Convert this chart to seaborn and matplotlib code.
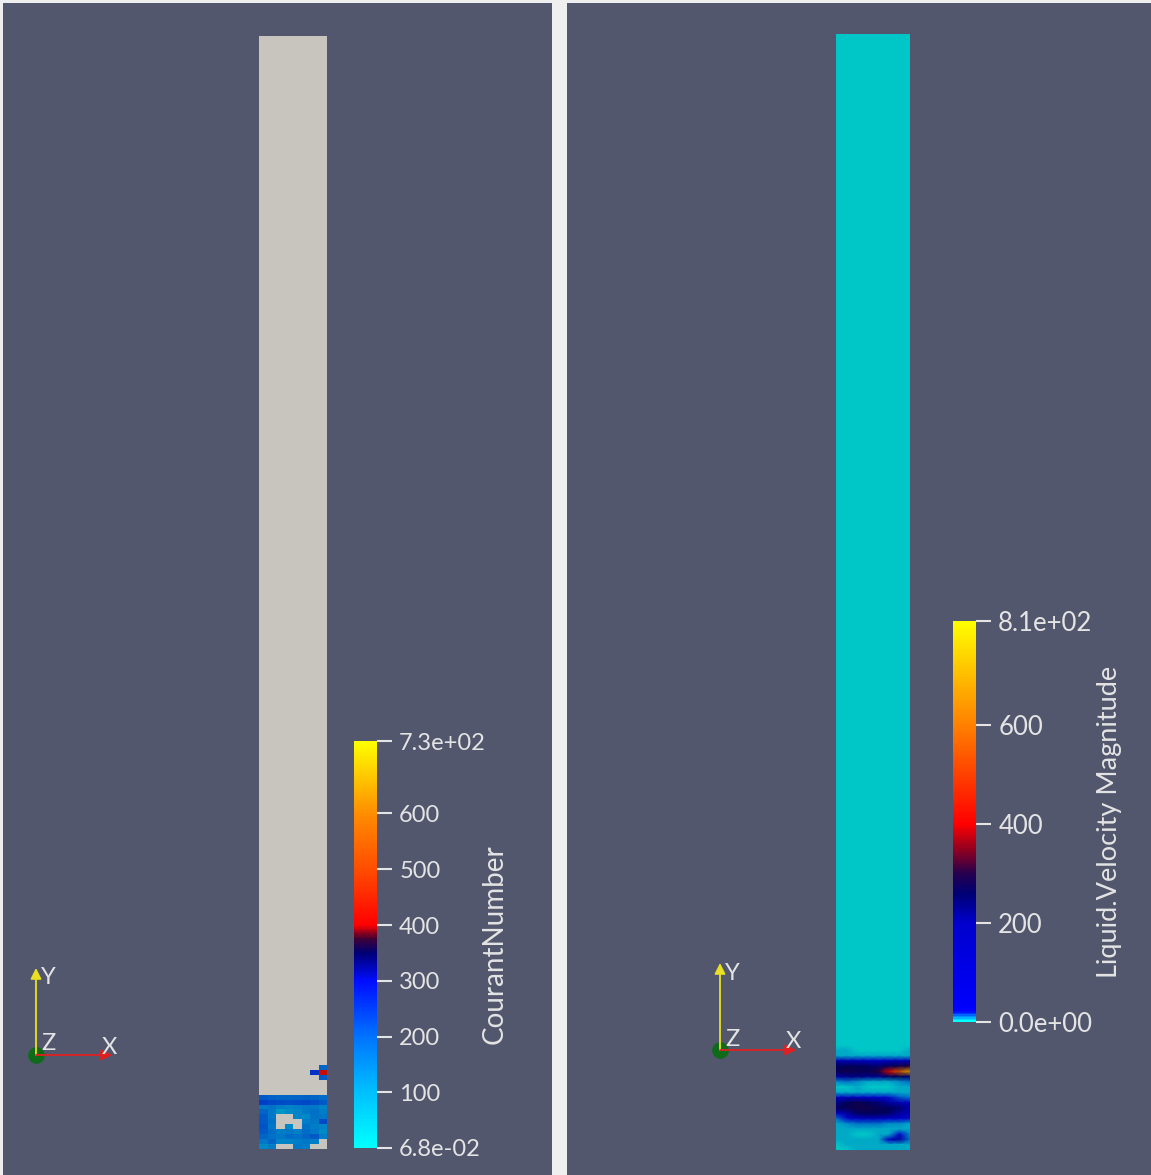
import numpy as np
import seaborn as sns
import matplotlib.pyplot as plt
from matplotlib.colors import LinearSegmentedColormap, ListedColormap, Normalize
from matplotlib.cm import ScalarMappable

sns.set_style("white")
plt.rcParams['font.family'] = ['Lato', 'DejaVu Sans']

nan = np.nan

courant_range = (0.068, 730.0)
courant_ticks = [0.068, 100, 200, 300, 400, 500, 600, 730]
courant_labels = ["6.8e-02", "100", "200", "300", "400", "500", "600", "7.3e+02"]
courant_top = [[nan]]          # upper column: no value (NaN colour)
courant_bottom = [
    [nan, nan, nan, nan, nan, nan, nan, nan],
    [nan, nan, nan, nan, nan, nan, nan, 180],
    [nan, nan, nan, nan, nan, nan, 250, 420],
    [nan, nan, nan, nan, nan, nan, nan, 200],
    [nan, nan, nan, nan, nan, nan, nan, nan],
    [nan, nan, nan, nan, nan, nan, nan, nan],
    [nan, nan, nan, nan, nan, nan, nan, nan],
    [200, 190, 180, 180, 185, 190, 180, 170],
    [235, 225, 220, 215, 220, 225, 215, 200],
    [150, 160, 140, 130, 140, 150, 150, 130],
    [180, 150, 100, 120, 130, 150, 160, 140],
    [200, 150, nan, nan, 130, 120, 160, 150],
    [200, 160, nan, nan, nan, 140, 150, 220],
    [210, 150, nan, 120, nan, 160, 140, 130],
    [200, 170, 140, 150, 140, 170, 150, 120],
    [180, 160, 150, 170, 160, 180, 200, 140],
    [150, 180, 130, 130, 140, 150, 140, nan],
    [120, 140, nan, nan, 150, 140, nan, nan],
]

velocity_range = (0.0, 810.0)
velocity_ticks = [0, 200, 400, 600, 810]
velocity_labels = ["0.0e+00", "200", "400", "600", "8.1e+02"]
velocity_top = [[0.0]]
velocity_bottom = [
    [0, 0, 0, 0, 0, 0, 0, 0],
    [0, 0, 3, 3, 3, 3, 0, 0],
    [5, 4, 0, 0, 0, 0, 3, 5],
    [6, 6, 5, 4, 4, 5, 6, 6],
    [150, 120, 80, 60, 60, 80, 100, 120],
    [250, 260, 260, 250, 240, 260, 280, 300],
    [270, 280, 270, 270, 300, 420, 560, 700],
    [200, 220, 230, 220, 220, 250, 260, 240],
    [8, 10, 8, 6, 5, 6, 8, 10],
    [0, 2, 4, 0, 0, 3, 5, 6],
    [5, 6, 6, 6, 5, 5, 6, 6],
    [60, 100, 80, 40, 30, 20, 15, 10],
    [220, 260, 280, 260, 240, 200, 120, 60],
    [250, 270, 280, 280, 270, 260, 240, 150],
    [30, 200, 250, 260, 260, 250, 200, 100],
    [10, 20, 60, 100, 80, 40, 30, 20],
    [6, 8, 10, 12, 10, 8, 8, 6],
    [5, 6, 5, 5, 6, 6, 5, 5],
    [4, 5, 0, 3, 5, 5, 20, 8],
    [5, 5, 6, 5, 5, 80, 200, 10],
    [0, 5, 5, 5, 5, 6, 6, 5],
    [0, 0, 5, 5, 5, 5, 5, 5],
]

# ---- colours ----
BG = '#52576e'
TXT = '#e4e4e4'
NAN_GRAY = (200 / 255, 197 / 255, 190 / 255)
SHADE = 0.78  # lighting on the column surface

courant_cmap = LinearSegmentedColormap.from_list("courant", [
    (0.0, (0, 1, 1)), (0.137, (0, 0.75, 1)), (0.274, (0, 0.45, 1)),
    (0.41, (0, 0.05, 1)), (0.48, (0, 0, 0.45)), (0.515, (0.25, 0, 0.2)),
    (0.548, (1, 0, 0)), (0.685, (1, 0.3, 0)), (0.822, (1, 0.55, 0)),
    (1.0, (1, 1, 0))])
velocity_cmap = LinearSegmentedColormap.from_list("velocity", [
    (0.0, (0, 1, 1)), (0.012, (0, 0.55, 1)), (0.025, (0, 0, 1)),
    (0.247, (0, 0, 0.8)), (0.32, (0, 0, 0.45)), (0.37, (0.15, 0, 0.3)),
    (0.42, (0.5, 0, 0.15)), (0.494, (1, 0, 0)), (0.74, (1, 0.5, 0)),
    (1.0, (1, 1, 0))])


def shaded(cmap):
    c = cmap(np.linspace(0, 1, 256))[:, :3] * SHADE
    out = ListedColormap(c)
    out.set_bad(NAN_GRAY)
    return out


W, H = 1151, 1175
fig = plt.figure(figsize=(W / 100, H / 100), dpi=100, facecolor='#efefef')


def px_axes(x0, y0, x1, y1, **kw):
    return fig.add_axes([x0 / W, 1 - y1 / H, (x1 - x0) / W, (y1 - y0) / H], **kw)


for x0, x1 in [(3, 552), (567, 1151)]:
    p = px_axes(x0, 3, x1, 1175, facecolor=BG)
    p.set_xticks([])
    p.set_yticks([])
    for s in p.spines.values():
        s.set_visible(False)


def column(xs, y_top, y_split, y_bot, top, bottom, cmap, rng, smooth):
    cm = shaded(cmap)
    for (a, b), data, sm in [((y_top, y_split), top, False),
                             ((y_split, y_bot), bottom, smooth)]:
        arr = np.array(data, dtype=float)
        ax = px_axes(xs[0], a, xs[1], b)
        ax.set_facecolor(NAN_GRAY)
        kws = dict(shading='gouraud') if sm else {}
        sns.heatmap(arr, ax=ax, cmap=cm, vmin=rng[0], vmax=rng[1], cbar=False,
                    xticklabels=False, yticklabels=False, **kws)
        if sm:
            ax.set_xlim(0, arr.shape[1] - 1)
            ax.set_ylim(arr.shape[0] - 1, 0)
        ax.axis('off')


def colorbar(box, cmap, rng, ticks, labels, title, labelpad, tsize, lsize):
    cax = px_axes(*box)
    cb = fig.colorbar(ScalarMappable(Normalize(*rng), cmap), cax=cax)
    cb.outline.set_visible(False)
    cb.set_ticks(ticks, labels=labels)
    cax.tick_params(colors=TXT, length=11, width=1.5, labelsize=tsize, pad=5)
    cb.set_label(title, color=TXT, fontsize=lsize, labelpad=labelpad)


def triad(ox, oy):
    ax = px_axes(ox - 20, oy - 100, ox + 95, oy + 20)
    ax.set_xlim(-20, 95)
    ax.set_ylim(-20, 100)
    ax.axis('off')
    ax.annotate('', xy=(0, 87), xytext=(0, 0),
                arrowprops=dict(arrowstyle='-|>', color='#e8e020', lw=1.3,
                                mutation_scale=16, shrinkA=0, shrinkB=0))
    ax.annotate('', xy=(76, 0), xytext=(0, 0),
                arrowprops=dict(arrowstyle='-|>', color='#e02020', lw=1.3,
                                mutation_scale=16, shrinkA=0, shrinkB=0))
    ax.plot([0], [0], 'o', color='#0f6b1a', ms=11)
    kw = dict(color=TXT, fontsize=17)
    ax.text(5, 77, 'Y', ha='left', va='center', **kw)
    ax.text(5, 11, 'Z', ha='left', va='center', **kw)
    ax.text(66, 8, 'X', ha='left', va='center', **kw)


column((259, 327), 36, 1060, 1149, courant_top, courant_bottom,
       courant_cmap, courant_range, False)
column((836, 910), 34, 1040, 1150, velocity_top, velocity_bottom,
       velocity_cmap, velocity_range, True)

colorbar((354, 741, 377, 1148), courant_cmap, courant_range,
         courant_ticks, courant_labels, "CourantNumber", -3, 17, 20)
colorbar((953, 621, 976, 1022), velocity_cmap, velocity_range,
         velocity_ticks, velocity_labels, "Liquid.Velocity Magnitude", 3, 18.5, 19.5)

triad(36, 1055)
triad(720, 1050)

fig.savefig("out.png", dpi=100, facecolor=fig.get_facecolor())
